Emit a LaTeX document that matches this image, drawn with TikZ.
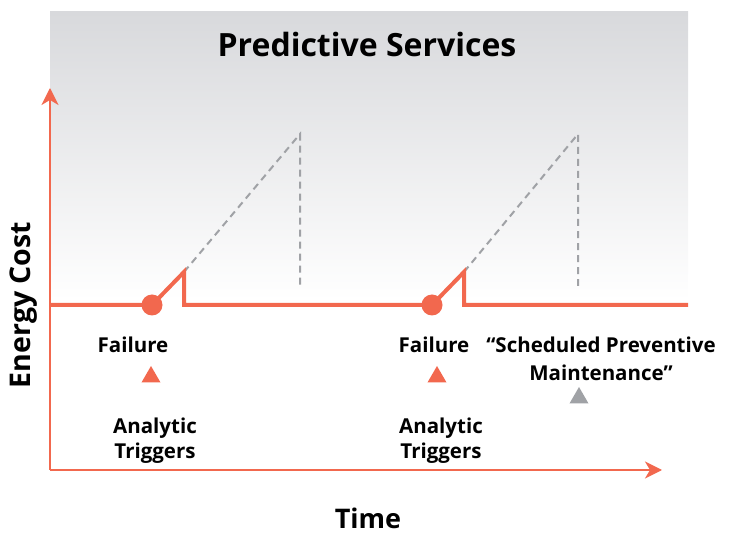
\documentclass[tikz,border=0pt]{standalone}
\usepackage{fontspec}
\setmainfont{Open Sans}
\usetikzlibrary{arrows.meta,shapes.geometric}
\definecolor{orng}{RGB}{242,104,78}
\definecolor{bggray}{RGB}{216,217,220}
\definecolor{dgray}{RGB}{160,162,166}
\tikzset{
  axis/.style={orng,line width=2pt,-{Stealth[length=17pt,width=17pt,inset=5pt]}},
  costline/.style={orng,line width=4pt,line join=miter},
  dashline/.style={dgray,line width=2pt,dash pattern=on 7pt off 5pt},
  lbl/.style={font=\bfseries\fontsize{20.5}{25}\selectfont,align=center,text=black,inner sep=0pt},
  tri/.style={regular polygon,regular polygon sides=3,inner sep=0pt,minimum size=22pt},
  dot/.style={circle,fill=orng,minimum size=21pt,inner sep=0pt}
}
\begin{document}
\begin{tikzpicture}[x=1pt,y=-1pt]
\useasboundingbox (0,0) rectangle (734,534);
\shade[top color=bggray,bottom color=white] (50,12) rectangle (688,300);
\node[font=\bfseries\fontsize{32}{36}\selectfont,inner sep=0pt] (title) at (367,45) {Predictive Services};
% axes
\coordinate (o) at (50,470);
\coordinate (ytip) at (50,88);
\coordinate (xtip) at (662,470);
\draw[axis] (o) -- (ytip);
\draw[axis] (o) -- (xtip);
\node[rotate=90,font=\bfseries\fontsize{28.5}{32}\selectfont,inner sep=0pt] (ylab) at (24,305) {Energy Cost};
\node[font=\bfseries\fontsize{27}{30}\selectfont,inner sep=0pt,anchor=base] (xlab) at (368,529) {Time};
% dashed ramps
\coordinate (t1) at (184,272);
\coordinate (p1) at (300,134);
\coordinate (b1) at (300,286);
\coordinate (t2) at (464,272);
\coordinate (p2) at (578,134);
\coordinate (b2) at (578,286);
\draw[dashline] (t1) -- (p1) -- (b1);
\draw[dashline] (t2) -- (p2) -- (b2);
% cost line
\coordinate (s) at (50,305);
\coordinate (e) at (688,305);
\node[dot] (f1) at (152,305) {};
\node[dot] (f2) at (432,305) {};
\draw[costline] (s) -- (f1.center) -- (t1) -- (184,305) -- (f2.center) -- (t2) -- (464,305) -- (e);
% labels
\node[lbl] (fl1) at (133,345) {Failure};
\node[lbl] (fl2) at (434,345) {Failure};
\node[tri,fill=orng] (tr1) at (151,377) {};
\node[tri,fill=orng] (tr2) at (437,377) {};
\node[tri,fill=dgray] (tr3) at (579,398) {};
\node[lbl] (at1) at (155,441) {Analytic\\Triggers};
\node[lbl] (at2) at (441,441) {Analytic\\Triggers};
\node[lbl,font=\bfseries\fontsize{20.5}{28}\selectfont] (spm) at (601,359) {“Scheduled Preventive\\Maintenance”};
\end{tikzpicture}
\end{document}
